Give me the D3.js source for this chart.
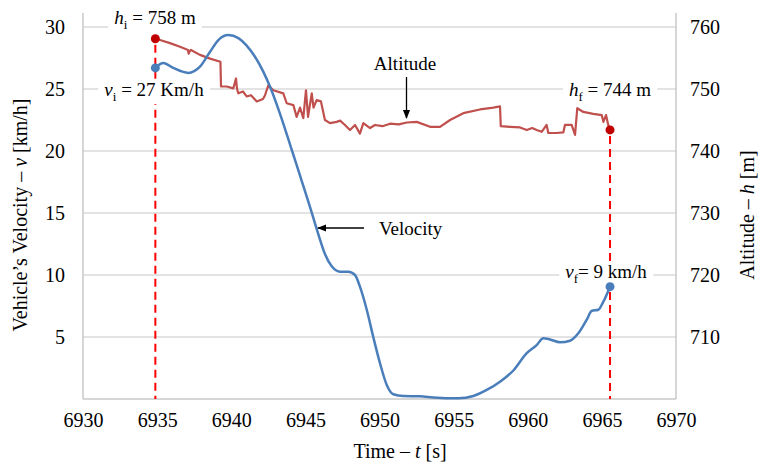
<!DOCTYPE html>
<html><head><meta charset="utf-8">
<script src="https://cdn.jsdelivr.net/npm/d3@7"></script>
<style>body{margin:0;background:#fff}svg{display:block}text{font-family:"Liberation Serif","Times New Roman",serif;fill:#000}</style>
</head><body>
<script>
// ---- data ----
const xTicks = [6930,6935,6940,6945,6950,6955,6960,6965,6970];
const vTicks = [5,10,15,20,25,30];
const hTicks = [710,720,730,740,750,760];

const velTime = [6934.86,6935.42,6936.09,6937.10,6937.89,6938.57,6939.13,6939.80,6940.48,6941.04,6941.60,6942.16,6942.61,6943.29,6944.00,6944.75,6945.31,6945.87,6946.32,6946.78,6947.34,6947.90,6948.35,6948.68,6949.14,6949.58,6950.03,6950.49,6950.93,6951.61,6952.73,6953.63,6955.32,6956.33,6957.23,6958.13,6959.03,6959.93,6960.60,6961.05,6961.50,6962.18,6962.85,6963.41,6963.98,6964.31,6964.76,6965.10,6965.55];
const velValue = [26.7,27.1,26.7,26.3,26.8,28.0,28.95,29.35,29.1,28.5,27.6,26.4,25.2,23.0,20.4,17.6,15.5,13.3,11.7,10.7,10.27,10.27,10.0,9.06,7.2,5.0,2.9,1.13,0.38,0.24,0.22,0.13,0.06,0.24,0.73,1.4,2.3,3.7,4.35,4.9,4.8,4.57,4.7,5.3,6.4,7.1,7.2,7.85,9.06];

const altTime = [6934.90,6935.19,6935.87,6936.54,6937.08,6937.12,6937.22,6937.28,6937.89,6938.57,6939.27,6939.31,6939.69,6940.14,6940.32,6940.39,6940.48,6940.79,6941.04,6941.33,6941.72,6942.14,6942.28,6942.50,6942.84,6943.51,6943.74,6944.19,6944.41,6944.64,6944.86,6945.04,6945.18,6945.43,6945.55,6945.76,6946.05,6946.32,6946.66,6947.11,6947.34,6947.67,6948.01,6948.35,6948.68,6948.91,6949.36,6949.70,6950.20,6950.71,6951.30,6951.84,6952.51,6953.41,6954.08,6954.76,6955.65,6956.78,6957.68,6958.13,6958.18,6958.80,6959.48,6959.93,6960.30,6960.60,6960.94,6961.27,6961.39,6961.95,6962.40,6962.51,6962.96,6963.19,6963.34,6963.75,6964.42,6964.99,6965.10,6965.28,6965.43,6965.55];
const altValue = [758.1,757.9,757.4,756.8,756.3,755.7,756.2,756.3,755.5,754.9,754.4,750.4,750.4,750.1,751.7,750.0,749.3,749.6,748.8,749.0,748.0,748.4,749.0,750.6,749.8,749.3,747.7,747.4,745.5,747.0,745.3,749.8,745.5,749.3,747.0,748.2,748.0,745.0,744.5,744.7,744.9,744.2,743.4,744.2,742.8,744.5,743.7,744.2,744.0,744.4,744.3,744.6,744.7,743.9,743.9,745.0,746.1,746.7,747.0,747.2,744.0,743.9,743.8,743.4,743.7,743.4,743.1,744.2,742.9,742.9,743.0,744.2,744.2,742.6,746.9,746.3,746.0,745.8,744.7,745.8,744.2,743.4];

const startT = 6934.88, endT = 6965.55;
const vStart = 26.7, vEnd = 9.06, hStart = 758.1, hEnd = 743.4;

// ---- layout ----
const W = 761, H = 464;
const L = 83, R = 676, T = 13, B = 399;
const svg = d3.select("body").append("svg").attr("width", W).attr("height", H);

const x = d3.scaleLinear().domain([6930,6970]).range([L,R]);
const yV = d3.scaleLinear().domain([0,30]).range([B,27]);
const yH = d3.scaleLinear().domain([700,760]).range([B,27]);
const gridC = "#c8c8c8";
const serif = '"Liberation Serif","Times New Roman",serif';

// gridlines
svg.append("g").selectAll("line").data(vTicks).join("line")
  .attr("x1", L).attr("x2", R).attr("y1", d=>yV(d)).attr("y2", d=>yV(d))
  .attr("stroke", gridC).attr("stroke-width", 1.2);

// axis frame lines
svg.append("line").attr("x1",L).attr("x2",L).attr("y1",T).attr("y2",B).attr("stroke",gridC).attr("stroke-width",1.5);
svg.append("line").attr("x1",R).attr("x2",R).attr("y1",T).attr("y2",B).attr("stroke",gridC).attr("stroke-width",1.5);
svg.append("line").attr("x1",L).attr("x2",R).attr("y1",B).attr("y2",B).attr("stroke",gridC).attr("stroke-width",1.5);

// axes
const fs = 20;
const ax = svg.append("g").attr("transform",`translate(0,${B})`)
  .call(d3.axisBottom(x).tickValues(xTicks).tickFormat(d3.format("d")).tickSize(0).tickPadding(14));
const al = svg.append("g").attr("transform",`translate(${L},0)`)
  .call(d3.axisLeft(yV).tickValues(vTicks).tickSize(0).tickPadding(18));
const ar = svg.append("g").attr("transform",`translate(${R},0)`)
  .call(d3.axisRight(yH).tickValues(hTicks).tickSize(0).tickPadding(14));
[ax,al,ar].forEach(g=>{g.select(".domain").remove();
  g.attr("font-family", serif).attr("font-size", fs);
  g.selectAll("text").style("font-family",serif).style("font-size",fs+"px").attr("fill","#000");});

// annotation helper
function label(xp, yp, parts, anchor, bg){
  const g = svg.append("g");
  const t = g.append("text").attr("x",xp).attr("y",yp).attr("text-anchor",anchor||"middle").style("font-size","19px");
  parts.forEach(p=>{
    const ts = t.append("tspan").text(p.t);
    if(p.i) ts.style("font-style","italic");
    if(p.sub) ts.attr("dy",5).style("font-size","13px");
    if(p.up) ts.attr("dy",-5);
  });
  if(bg){
    const bb = t.node().getBBox();
    g.insert("rect","text").attr("x",bb.x-6).attr("y",bb.y).attr("width",bb.width+12).attr("height",bb.height).attr("fill","#fff");
  }
  return t;
}

// dashed verticals
svg.append("line").attr("x1",x(startT)).attr("x2",x(startT)).attr("y1",yH(hStart)+6).attr("y2",B)
  .attr("stroke","#ff0000").attr("stroke-width",2).attr("stroke-dasharray","8,5");
svg.append("line").attr("x1",x(endT)).attr("x2",x(endT)).attr("y1",yH(hEnd)+6).attr("y2",B)
  .attr("stroke","#ff0000").attr("stroke-width",2).attr("stroke-dasharray","8,5");

// labels with white backgrounds
label(155, 24, [{t:"h",i:true},{t:"i",sub:true},{t:" = 758 m",up:true}], "middle", true);
label(154, 96, [{t:"v",i:true},{t:"i",sub:true},{t:" = 27 Km/h",up:true}], "middle", true);
label(610, 96, [{t:"h",i:true},{t:"f",sub:true},{t:" = 744 m",up:true}], "middle", true);
label(606, 278, [{t:"v",i:true},{t:"f",sub:true},{t:"= 9 km/h",up:true}], "middle", true);

// series
const altData = altTime.map((t,i)=>[t,altValue[i]]);
const velData = velTime.map((t,i)=>[t,velValue[i]]);
svg.append("path").datum(altData)
  .attr("d", d3.line().x(d=>x(d[0])).y(d=>yH(d[1])))
  .attr("fill","none").attr("stroke","#c0504d").attr("stroke-width",2.2).attr("stroke-linejoin","round");
svg.append("path").datum(velData)
  .attr("d", d3.line().x(d=>x(d[0])).y(d=>yV(d[1])).curve(d3.curveMonotoneX))
  .attr("fill","none").attr("stroke","#4a7ebb").attr("stroke-width",2.5).attr("stroke-linejoin","round");

// markers
svg.append("circle").attr("cx",x(startT)).attr("cy",yH(hStart)).attr("r",4.5).attr("fill","#c00000");
svg.append("circle").attr("cx",x(endT)).attr("cy",yH(hEnd)).attr("r",4.5).attr("fill","#c00000");
svg.append("circle").attr("cx",x(startT)).attr("cy",yV(vStart)).attr("r",4.5).attr("fill","#4a7ebb");
svg.append("circle").attr("cx",x(endT)).attr("cy",yV(vEnd)).attr("r",4.5).attr("fill","#4a7ebb");

// arrows
const defs = svg.append("defs");
defs.append("marker").attr("id","ah").attr("viewBox","0 0 10 10").attr("refX",9).attr("refY",5)
  .attr("markerWidth",7).attr("markerHeight",7).attr("orient","auto")
  .append("path").attr("d","M0,1 L10,5 L0,9 Z").attr("fill","#000");
label(405, 70, [{t:"Altitude"}], "middle", false);
svg.append("line").attr("x1",406.5).attr("x2",406.5).attr("y1",77).attr("y2",118)
  .attr("stroke","#000").attr("stroke-width",1.3).attr("marker-end","url(#ah)");
label(379, 235, [{t:"Velocity"}], "start", false);
svg.append("line").attr("x1",364).attr("x2",318).attr("y1",228).attr("y2",228)
  .attr("stroke","#000").attr("stroke-width",1.3).attr("marker-end","url(#ah)");

// axis titles
const tb = svg.append("text").attr("x",400).attr("y",458).attr("text-anchor","middle").style("font-size","20px");
tb.append("tspan").text("Time – ");
tb.append("tspan").text("t").style("font-style","italic");
tb.append("tspan").text(" [s]");

const tl = svg.append("text").attr("transform","translate(27,215) rotate(-90)").attr("text-anchor","middle").style("font-size","20px");
tl.append("tspan").text("Vehicle’s Velocity – ");
tl.append("tspan").text("v").style("font-style","italic");
tl.append("tspan").text(" [km/h]");

const tr = svg.append("text").attr("transform","translate(754,215) rotate(-90)").attr("text-anchor","middle").style("font-size","20px");
tr.append("tspan").text("Altitude – ");
tr.append("tspan").text("h").style("font-style","italic");
tr.append("tspan").text(" [m]");
</script>
</body></html>
